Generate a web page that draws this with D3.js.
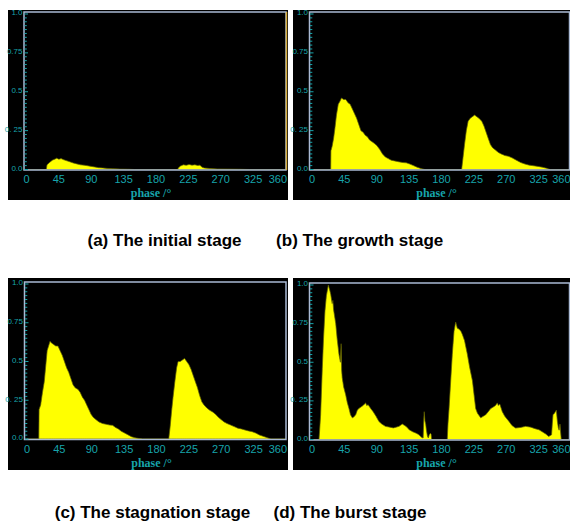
<!doctype html>
<html lang="en">
<head>
<meta charset="UTF-8">
<title>Phase distribution stages</title>
<style>
  body { margin: 0; background: #fff; }
  svg { display: block; }
  .tick-x { font-family: "Liberation Sans", Arial, sans-serif; font-size: 11px; fill: #17a4ab; }
  .tick-y { font-family: "Liberation Sans", Arial, sans-serif; font-size: 8px; fill: #17a4ab; }
  .axis-title { font-family: "Liberation Serif", "Times New Roman", serif; font-size: 12px; font-weight: bold; fill: #17a4ab; }
  .caption { font-family: "Liberation Sans", Arial, sans-serif; font-size: 17px; font-weight: bold; fill: #000; }
</style>
</head>
<body>
<svg id="chart" width="570" height="521"></svg>
<script src="https://d3js.org/d3.v7.min.js"></script>
<script>
// x axis (phase, degrees) and its printed labels
const phaseTicks = [0, 45, 90, 135, 180, 225, 270, 315, 360];
const phaseLabels = ["0", "45", "90", "135", "180", "225", "270", "325", "360"];
// y axis (normalised count)
const yTicks = [0, 0.25, 0.5, 0.75, 1];
const yLabels = ["0.0", "0. 25", "0.5", "0.75", "1.0"];

// [phase, value]
const initialStage = [[0,0],[27.5,0],[28.5,0.03],[32,0.045],[36,0.06],[40,0.068],[42,0.073],[45,0.066],[48,0.07],[52,0.062],[56,0.056],[60,0.05],[65,0.042],[70,0.036],[75,0.03],[80,0.028],[85,0.024],[90,0.02],[95,0.016],[100,0.012],[106,0.01],[112,0.007],[120,0.005],[130,0.003],[140,0.002],[150,0],[210,0],[211,0.01],[214,0.022],[218,0.03],[222,0.027],[226,0.032],[230,0.028],[234,0.03],[238,0.026],[241,0.028],[244,0.015],[247,0.01],[255,0.006],[265,0.004],[280,0.003],[295,0.002],[310,0],[360,0]];

const growthStage = [[0,0],[26,0],[26.3,0.12],[28,0.15],[30,0.2],[32,0.27],[34,0.35],[36.5,0.42],[39,0.44],[41,0.46],[44,0.45],[47,0.45],[50,0.43],[53,0.42],[56,0.39],[59,0.36],[62,0.33],[65,0.29],[68,0.25],[71,0.24],[74,0.22],[77,0.21],[80,0.19],[83,0.18],[86,0.17],[90,0.155],[94,0.13],[98,0.1],[102,0.08],[106,0.07],[110,0.06],[115,0.055],[120,0.05],[126,0.045],[131,0.043],[136,0.035],[141,0.025],[146,0.015],[151,0.007],[157,0],[208,0],[210,0.08],[212,0.16],[214.5,0.25],[217,0.31],[220,0.33],[223,0.34],[226,0.35],[229,0.34],[232,0.33],[236,0.31],[239,0.28],[242,0.24],[245,0.2],[248,0.16],[251,0.14],[255,0.125],[259,0.11],[263,0.1],[268,0.09],[273,0.085],[278,0.075],[284,0.06],[290,0.045],[296,0.035],[302,0.028],[308,0.024],[314,0.02],[320,0.015],[326,0.008],[331,0],[360,0]];

const stagnationStage = [[0,0],[16.4,0],[16.8,0.19],[19,0.22],[21.5,0.3],[24,0.37],[26,0.47],[28,0.57],[30,0.6],[32,0.63],[34,0.62],[37,0.61],[40,0.6],[43,0.6],[46,0.57],[49,0.54],[52,0.5],[55,0.46],[58,0.43],[61,0.39],[64,0.35],[67,0.33],[71,0.32],[74,0.3],[77,0.27],[80,0.25],[83,0.22],[86,0.19],[89,0.16],[92,0.14],[96,0.125],[100,0.11],[105,0.1],[110,0.095],[115,0.09],[119,0.088],[123,0.075],[127,0.065],[131,0.05],[135,0.04],[140,0.028],[145,0.015],[150,0.008],[156,0.003],[161,0],[197,0],[199,0.08],[201,0.18],[203,0.27],[205.5,0.37],[208,0.46],[210,0.5],[213,0.5],[216,0.51],[219,0.52],[222,0.5],[225,0.48],[228,0.45],[231,0.41],[234,0.37],[237,0.33],[240,0.28],[243,0.24],[246,0.22],[250,0.2],[254,0.185],[258,0.175],[262,0.16],[266,0.14],[270,0.125],[274,0.11],[278,0.1],[283,0.09],[288,0.08],[293,0.07],[298,0.065],[303,0.058],[308,0.052],[313,0.047],[318,0.038],[323,0.026],[328,0.018],[333,0.01],[339,0],[360,0]];

const burstStage = [[0,0],[9.7,0],[10.5,0.05],[12,0.16],[14.3,0.46],[16,0.65],[18,0.83],[20,0.93],[22.7,1.0],[24.5,0.97],[26,0.94],[28,0.88],[29,0.9],[30,0.84],[33,0.75],[35,0.65],[37.5,0.55],[39.5,0.5],[40.5,0.62],[41.2,0.45],[42,0.4],[44,0.34],[46.8,0.29],[49,0.24],[51.4,0.2],[53.5,0.16],[56,0.14],[58,0.145],[60.7,0.16],[63,0.19],[65,0.2],[68,0.21],[71,0.22],[73,0.23],[74.6,0.237],[76,0.22],[78,0.225],[81.6,0.2],[85,0.18],[89,0.15],[93,0.117],[97,0.1],[102,0.085],[108,0.08],[113,0.075],[117,0.08],[121,0.085],[125.5,0.1],[129,0.09],[132,0.08],[135,0.063],[140,0.05],[145,0.04],[148.7,0.03],[151,0.02],[153,0.012],[154.5,0.01],[155.5,0.14],[156,0.18],[157,0.12],[158,0.1],[159,0.06],[160.5,0.02],[161.7,0.01],[163,0.03],[164.5,0.04],[165.5,0.035],[166.4,0],[188,0],[189,0.1],[190.5,0.2],[192.8,0.38],[195,0.55],[197.4,0.7],[199.7,0.76],[202,0.72],[204.3,0.715],[207,0.7],[209,0.68],[212,0.64],[216,0.55],[219,0.47],[223,0.38],[225,0.3],[227.5,0.2],[230,0.17],[234.5,0.14],[238,0.15],[241.5,0.16],[245,0.18],[248.4,0.2],[252,0.21],[255,0.22],[257.6,0.237],[259,0.22],[261,0.23],[264.5,0.18],[268,0.15],[273.8,0.117],[278,0.09],[283,0.074],[290,0.078],[297,0.085],[304,0.08],[310,0.07],[315.5,0.063],[320,0.05],[325,0.035],[329,0.02],[333,0.03],[334,0.1],[335,0.16],[337,0.17],[339.6,0.19],[341,0.12],[342.4,0.074],[343.5,0.06],[344.7,0.1],[345.5,0.05],[346.5,0],[360,0]];

// layout of the four sub-figures
const panels = [
  { data: initialStage,    caption: "(a) The initial stage",    bg: [8, 10, 280, 190],   frame: [24, 12, 286, 170],      cap: [164.5, 245.5], gold: true },
  { data: growthStage,     caption: "(b) The growth stage",     bg: [293, 10, 277, 190], frame: [309.5, 12, 569.5, 170], cap: [359.7, 245.5] },
  { data: stagnationStage, caption: "(c) The stagnation stage", bg: [8, 278, 280, 192],  frame: [24.5, 282, 286, 439.5], cap: [152.5, 517.5] },
  { data: burstStage,      caption: "(d) The burst stage",      bg: [293, 278, 277, 192], frame: [309.5, 283, 569.5, 440], cap: [350, 517.5] }
];

const svg = d3.select("#chart");
const teal = "#17a4ab";

panels.forEach(p => {
  const [fx0, fy0, fx1, fy1] = p.frame;
  const x = d3.scaleLinear().domain([0, 360]).range([fx0 + 2.5, fx0 + 261.5]);
  const y = d3.scaleLinear().domain([0, 1]).range([fy1 - 0.5, fy0 + 2]);

  const g = svg.append("g");

  g.append("rect")
    .attr("x", p.bg[0]).attr("y", p.bg[1])
    .attr("width", p.bg[2]).attr("height", p.bg[3])
    .attr("fill", "#000");

  // histogram fill
  const area = d3.area()
    .x(d => x(d[0]))
    .y0(y(0))
    .y1(d => y(d[1]));

  g.append("clipPath").attr("id", "clip" + fx0 + fy0)
    .append("rect").attr("x", fx0).attr("y", fy0)
    .attr("width", fx1 - fx0).attr("height", fy1 - fy0);

  g.append("path")
    .datum(p.data)
    .attr("clip-path", `url(#clip${fx0}${fy0})`)
    .attr("d", area)
    .attr("fill", "#ffff00")
    .attr("stroke", "#5e5e00")
    .attr("stroke-width", 0.7);

  // frame
  g.append("rect")
    .attr("x", fx0).attr("y", fy0)
    .attr("width", fx1 - fx0).attr("height", fy1 - fy0)
    .attr("fill", "none")
    .attr("stroke", "#a9b9d3")
    .attr("stroke-width", 1.5);

  if (p.gold) {
    g.append("line")
      .attr("x1", fx1 + 0.5).attr("x2", fx1 + 0.5)
      .attr("y1", fy0).attr("y2", fy1)
      .attr("stroke", "#d9ae3c").attr("stroke-width", 1.5);
  }

  // minor ticks on the y axis
  const minor = d3.range(0, 1.0001, 0.025);
  g.selectAll(".minor").data(minor).join("line")
    .attr("x1", fx0 + 0.5)
    .attr("x2", (d, i) => fx0 + (i % 10 === 0 ? 4 : 2.8))
    .attr("y1", d => y(d)).attr("y2", d => y(d))
    .attr("stroke", teal).attr("stroke-width", 1);

  // y labels
  g.selectAll(".tick-y").data(yTicks).join("text")
    .attr("class", "tick-y")
    .attr("x", fx0 - 1.5)
    .attr("y", d => y(d) - 1.5)
    .attr("dy", "0.35em")
    .attr("text-anchor", "end")
    .text((d, i) => yLabels[i]);

  // x labels
  g.selectAll(".tick-x").data(phaseTicks).join("text")
    .attr("class", "tick-x")
    .attr("x", d => d === 360 ? fx1 + 1 : x(d))
    .attr("y", fy1 + 13)
    .attr("text-anchor", d => d === 360 ? "end" : "middle")
    .text((d, i) => phaseLabels[i]);

  g.append("text")
    .attr("class", "axis-title")
    .attr("x", fx0 + 127)
    .attr("y", fy1 + 27)
    .attr("text-anchor", "middle")
    .text("phase /°");

  svg.append("text")
    .attr("class", "caption")
    .attr("x", p.cap[0]).attr("y", p.cap[1])
    .attr("text-anchor", "middle")
    .text(p.caption);
});
</script>
</body>
</html>
